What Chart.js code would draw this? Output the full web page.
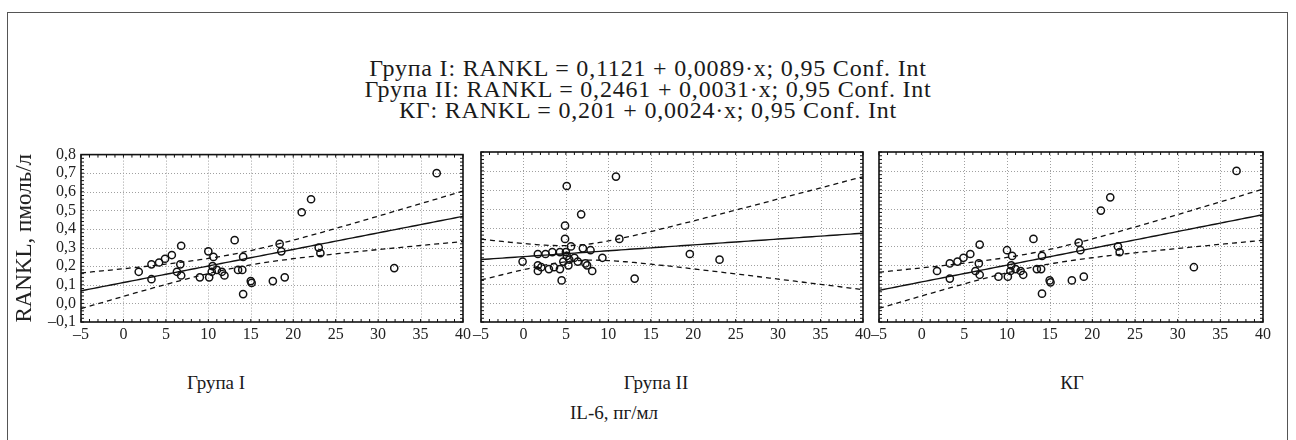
<!DOCTYPE html>
<html>
<head>
<meta charset="utf-8">
<script src="https://cdn.jsdelivr.net/npm/chart.js@4.4.1/dist/chart.umd.min.js"></script>
<style>
  body { margin: 0; background: #fff; }
  #wrap { position: relative; width: 1296px; height: 440px; overflow: hidden;
          font-family: "Liberation Serif", "Times New Roman", serif; color: #1a1a1a; }
  #frame { position: absolute; left: 7px; top: 12px; width: 1281px; height: 470px;
           border: 1.5px solid #555; box-sizing: border-box; }
  #head { position: absolute; left: 0; top: 58px; width: 1296px; text-align: center;
          font-family: "Liberation Serif", "Times New Roman", serif;
          font-size: 24px; line-height: 21px; letter-spacing: 0.8px; }
  .lbl { position: absolute; font-family: "Liberation Serif", "Times New Roman", serif;
         font-size: 19px; transform: translateX(-50%); white-space: nowrap; }
  canvas { position: absolute; }
</style>
</head>
<body>
<div id="wrap">
  <div id="frame"></div>
  <div id="head"></div>
  <canvas id="p0" width="480" height="225" style="left:0px;top:140px"></canvas>
  <canvas id="p1" width="410" height="225" style="left:470px;top:140px"></canvas>
  <canvas id="p2" width="412" height="225" style="left:868px;top:140px"></canvas>
  <div class="lbl" id="l0" style="left:216px;top:372px"></div>
  <div class="lbl" id="l1" style="left:656px;top:372px"></div>
  <div class="lbl" id="l2" style="left:1072px;top:372px"></div>
  <div class="lbl" id="xt" style="left:614px;top:402px"></div>
</div>
<script>
// IL-6 (x) and RANKL (y) per group
const groupIX = [1.8, 3.3, 3.3, 4.2, 4.9, 5.7, 6.8, 6.3, 6.7, 6.8, 9.0, 10.0, 10.6, 10.1, 10.4, 10.5, 11.0, 11.6,
                 11.9, 13.1, 13.5, 14.1, 14.0, 14.1, 15.0, 15.1, 17.6, 19.0, 18.4, 18.6, 21.0, 22.1, 23.0, 23.2, 31.9, 36.9];
const groupIY = [0.17, 0.21, 0.13, 0.22, 0.24, 0.26, 0.31, 0.17, 0.21, 0.15, 0.14, 0.28, 0.25, 0.14, 0.17, 0.20, 0.18, 0.17,
                 0.15, 0.34, 0.18, 0.25, 0.18, 0.05, 0.12, 0.11, 0.12, 0.14, 0.32, 0.28, 0.49, 0.56, 0.30, 0.27, 0.19, 0.70];

const groupIIX = [-0.1, 1.7, 1.7, 1.7, 2.1, 2.6, 3.0, 3.4, 3.6, 4.3, 4.3, 4.5, 4.7, 5.0, 5.1, 4.9, 4.9, 5.1,
                  5.3, 5.4, 5.6, 6.0, 6.4, 6.8, 7.0, 7.3, 7.5, 7.9, 8.1, 9.3, 10.9, 11.3, 13.1, 19.6, 23.1];
const groupIIY = [0.22, 0.26, 0.20, 0.17, 0.19, 0.26, 0.18, 0.27, 0.19, 0.27, 0.18, 0.12, 0.22, 0.27, 0.62, 0.41, 0.34, 0.25,
                  0.20, 0.23, 0.30, 0.24, 0.22, 0.47, 0.29, 0.21, 0.20, 0.28, 0.17, 0.24, 0.67, 0.34, 0.13, 0.26, 0.23];

// КГ panel plots the same sample and fit line as Група I
const kgX = [1.8, 3.3, 3.3, 4.2, 4.9, 5.7, 6.8, 6.3, 6.7, 6.8, 9.0, 10.0, 10.6, 10.1, 10.4, 10.5, 11.0, 11.6,
             11.9, 13.1, 13.5, 14.1, 14.0, 14.1, 15.0, 15.1, 17.6, 19.0, 18.4, 18.6, 21.0, 22.1, 23.0, 23.2, 31.9, 36.9];
const kgY = [0.17, 0.21, 0.13, 0.22, 0.24, 0.26, 0.31, 0.17, 0.21, 0.15, 0.14, 0.28, 0.25, 0.14, 0.17, 0.20, 0.18, 0.17,
             0.15, 0.34, 0.18, 0.25, 0.18, 0.05, 0.12, 0.11, 0.12, 0.14, 0.32, 0.28, 0.49, 0.56, 0.30, 0.27, 0.19, 0.70];

const panelNames = ["Група I", "Група II", "КГ"];
const fitIntercepts = [0.1121, 0.2461, 0.1121];
const fitSlopes = [0.0089, 0.0031, 0.0089];
const equations = [
  "Група I: RANKL = 0,1121 + 0,0089·x; 0,95 Conf. Int",
  "Група II: RANKL = 0,2461 + 0,0031·x; 0,95 Conf. Int",
  "КГ: RANKL = 0,201 + 0,0024·x; 0,95 Conf. Int"
];
const xTicks = [-5, 0, 5, 10, 15, 20, 25, 30, 35, 40];
const yTicks = [-0.1, 0, 0.1, 0.2, 0.3, 0.4, 0.5, 0.6, 0.7, 0.8];
const xTitle = "IL-6, пг/мл";
const yTitle = "RANKL, пмоль/л";

document.getElementById("head").innerHTML = equations.join("<br>");
panelNames.forEach((n, i) => document.getElementById("l" + i).textContent = n);
document.getElementById("xt").textContent = xTitle;

const fmt = (v, d) => v.toFixed(d).replace(".", ",").replace("-", "–");

// fit line and 95% confidence band of the mean
function fitCurves(xs, ys, a, b) {
  const n = xs.length;
  const xm = xs.reduce((s, v) => s + v, 0) / n;
  const sxx = xs.reduce((s, v) => s + (v - xm) ** 2, 0);
  const sse = xs.reduce((s, v, i) => s + (ys[i] - (a + b * v)) ** 2, 0);
  const se = Math.sqrt(sse / (n - 2));
  const t = 2.03;
  const line = [], lo = [], hi = [];
  for (let x = xTicks[0]; x <= xTicks[xTicks.length - 1] + 1e-9; x += 0.5) {
    const yh = a + b * x;
    const h = t * se * Math.sqrt(1 / n + (x - xm) ** 2 / sxx);
    line.push({ x, y: yh });
    lo.push({ x, y: yh - h });
    hi.push({ x, y: yh + h });
  }
  return { line, lo, hi };
}

// dotted grid, frame and small inward ticks
const framePlugin = {
  id: "frame",
  beforeDatasetsDraw(chart) {
    const { ctx, chartArea: ca, scales: { x, y } } = chart;
    ctx.save();
    ctx.strokeStyle = "#a0a0a0";
    ctx.lineWidth = 1;
    ctx.setLineDash([1, 2]);
    xTicks.slice(1, -1).forEach(v => {
      const px = Math.round(x.getPixelForValue(v)) + 0.5;
      ctx.beginPath(); ctx.moveTo(px, ca.top); ctx.lineTo(px, ca.bottom); ctx.stroke();
    });
    yTicks.slice(1, -1).forEach(v => {
      const py = Math.round(y.getPixelForValue(v)) + 0.5;
      ctx.beginPath(); ctx.moveTo(ca.left, py); ctx.lineTo(ca.right, py); ctx.stroke();
    });
    ctx.restore();
  },
  afterDatasetsDraw(chart) {
    const { ctx, chartArea: ca, scales: { x, y } } = chart;
    ctx.save();
    ctx.strokeStyle = "#111";
    ctx.lineWidth = 1;
    ctx.beginPath();
    for (let v = -5; v <= 40; v++) {
      const px = x.getPixelForValue(v);
      ctx.moveTo(px, ca.top); ctx.lineTo(px, ca.top + 3);
      ctx.moveTo(px, ca.bottom); ctx.lineTo(px, ca.bottom - 3);
    }
    for (let k = -5; k <= 40; k++) {
      const py = y.getPixelForValue(k * 0.02);
      ctx.moveTo(ca.left, py); ctx.lineTo(ca.left + 3, py);
      ctx.moveTo(ca.right, py); ctx.lineTo(ca.right - 3, py);
    }
    ctx.stroke();
    ctx.lineWidth = 1.6;
    ctx.strokeRect(ca.left, ca.top, ca.right - ca.left, ca.bottom - ca.top);
    ctx.restore();
  }
};

const tickFont = { family: "'Liberation Serif', 'Times New Roman', serif", size: 16 };

function makePanel(id, xs, ys, i) {
  const first = i === 0;
  const c = fitCurves(xs, ys, fitIntercepts[i], fitSlopes[i]);
  const lineStyle = { showLine: true, pointRadius: 0, borderColor: "#111", fill: false };
  new Chart(document.getElementById(id), {
    type: "scatter",
    data: {
      datasets: [
        { data: xs.map((v, k) => ({ x: v, y: ys[k] })), pointStyle: "circle", pointRadius: 3.6,
          borderWidth: 1.5, borderColor: "#111", backgroundColor: "rgba(0,0,0,0)" },
        { ...lineStyle, data: c.line, borderWidth: 1.4 },
        { ...lineStyle, data: c.lo, borderWidth: 1.3, borderDash: [5, 4] },
        { ...lineStyle, data: c.hi, borderWidth: 1.3, borderDash: [5, 4] }
      ]
    },
    options: {
      responsive: false,
      animation: false,
      layout: { padding: { left: first ? 0 : 10, right: 17, top: 12, bottom: 19 } },
      plugins: { legend: { display: false }, tooltip: { enabled: false } },
      scales: {
        x: {
          type: "linear", min: -5, max: 40,
          afterBuildTicks: s => { s.ticks = xTicks.map(v => ({ value: v })); },
          afterFit: s => { s.height = 24; },
          grid: { display: false, drawTicks: false }, border: { display: false },
          ticks: { font: tickFont, color: "#222", padding: 3, maxRotation: 0, minRotation: 0, autoSkip: false,
                   callback: v => fmt(v, 0) }
        },
        y: {
          type: "linear", min: -0.1, max: 0.8,
          afterBuildTicks: s => { s.ticks = yTicks.map(v => ({ value: v })); },
          afterFit: s => { s.width = first ? 81 : 0; },
          grid: { display: false, drawTicks: false }, border: { display: false },
          title: { display: first, text: yTitle, color: "#222", padding: { top: 11, bottom: 0 },
                   font: { family: "'Liberation Serif', 'Times New Roman', serif", size: 23 } },
          ticks: { display: first, font: tickFont, color: "#222", padding: 5, autoSkip: false,
                   callback: v => fmt(v, 1) }
        }
      }
    },
    plugins: [framePlugin]
  });
}

makePanel("p0", groupIX, groupIY, 0);
makePanel("p1", groupIIX, groupIIY, 1);
makePanel("p2", kgX, kgY, 2);
</script>
</body>
</html>
